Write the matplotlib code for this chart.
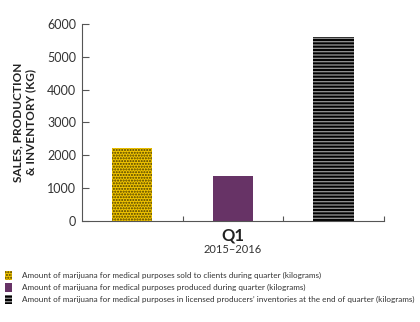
import matplotlib.pyplot as plt
from matplotlib.patches import Patch

plt.rcParams["font.family"] = ["Lato", "DejaVu Sans"]
plt.rcParams["hatch.linewidth"] = 1.0

# Quarterly figures (kilograms)
series = [
    "Amount of marijuana for medical purposes sold to clients during quarter (kilograms)",
    "Amount of marijuana for medical purposes produced during quarter (kilograms)",
    "Amount of marijuana for medical purposes in licensed producers\u2019 inventories at the end of quarter (kilograms)",
]
values = [2210, 1370, 5590]
quarter = "Q1"
fiscal_year = "2015\u20132016"

face_colors = ["#f2c500", "#673366", "#000000"]
hatch_colors = ["#4a3c00", "#673366", "#8c8c8c"]
hatches = ["......", "", "-----"]

fig = plt.figure(figsize=(4.2, 3.22), dpi=100)
ax = fig.add_axes([0.195, 0.3137, 0.719, 0.6118])

for i, v in enumerate(values):
    ax.bar(i, v, width=0.4, color=face_colors[i], edgecolor=hatch_colors[i],
           hatch=hatches[i], linewidth=0)

ax.set_xlim(-0.5, 2.5)
ax.set_ylim(0, 6000)
ax.set_yticks(range(0, 6001, 1000))
ax.set_xticks([0.5, 1.5, 2.5])
ax.set_xticklabels([])
ax.tick_params(axis="y", direction="in", length=5, width=0.8, color="#555555",
               labelsize=9, labelcolor="#333333", pad=4)
ax.tick_params(axis="x", direction="in", length=3.5, width=0.8, color="#555555")

for side in ["top", "right"]:
    ax.spines[side].set_visible(False)
for side in ["left", "bottom"]:
    ax.spines[side].set_color("#555555")
    ax.spines[side].set_linewidth(0.8)

ax.set_ylabel("SALES, PRODUCTION\n& INVENTORY (KG)", fontsize=8.5,
              fontweight="bold", color="#222222", labelpad=8)

ax.text(0.5, -0.075, quarter, transform=ax.transAxes, ha="center", va="center",
        fontsize=12, fontweight="bold", color="#222222")
ax.text(0.5, -0.145, fiscal_year, transform=ax.transAxes, ha="center",
        va="center", fontsize=8, color="#333333")

handles = [
    Patch(facecolor=face_colors[i], edgecolor=hatch_colors[i],
          hatch=hatches[i], linewidth=0)
    for i in range(len(series))
]
fig.legend(handles, series, loc="upper left", bbox_to_anchor=(0.003, 0.168),
           frameon=False, fontsize=5.85, handlelength=0.95, handleheight=1.25,
           handletextpad=1.2, labelspacing=0.42, borderaxespad=0,
           labelcolor="#333333")

fig.savefig("out.png", dpi=100)
